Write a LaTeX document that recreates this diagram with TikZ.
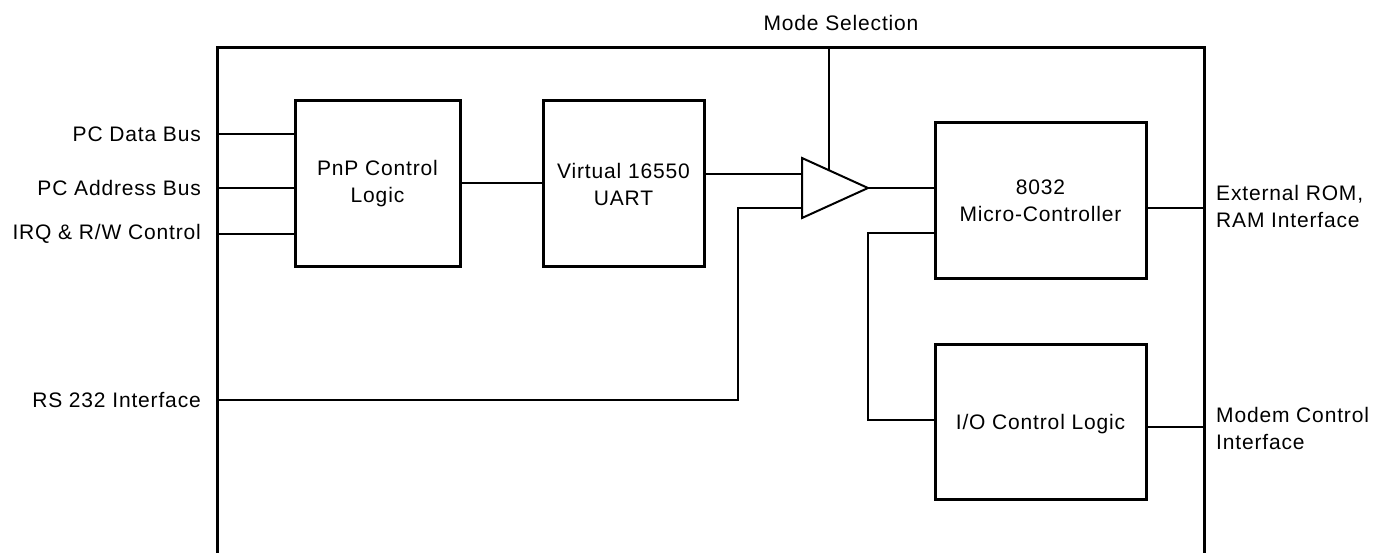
\documentclass[tikz,border=0pt]{standalone}
\usepackage{fontspec}
\setmainfont{Liberation Sans}[LetterSpace=4]
\begin{document}
\begin{tikzpicture}[x=1pt,y=-1pt,
  blk/.style={draw,line width=3pt,inner sep=0pt},
  wire/.style={line width=1.8pt},
  lbl/.style={font=\fontsize{21}{27}\selectfont,inner sep=0pt},
]
\useasboundingbox (0,0) rectangle (1389,552);
% outer frame (open at the bottom)
\draw[line width=3pt] (217,560) -- (217,47) -- (1204,47) -- (1204,560);
% blocks
\node[blk,minimum width=165pt,minimum height=166pt] (pnp) at (377.5,183) {};
\node[lbl,align=center] at (377.5,184) {PnP Control\\Logic};
\node[blk,minimum width=161pt,minimum height=166pt] (uart) at (623.5,183) {};
\node[lbl,align=center] at (623.5,184) {Virtual 16550\\UART};
\node[blk,minimum width=211pt,minimum height=156pt] (mcu) at (1040.5,200) {};
\node[lbl,align=center] at (1040.5,201) {8032\\Micro-Controller};
\node[blk,minimum width=211pt,minimum height=155pt] (io) at (1040.5,422) {};
\node[lbl] at (1040.5,424) {I/O Control Logic};
% amplifier
\coordinate (ampA) at (802,158);
\coordinate (ampB) at (802,218);
\coordinate (ampT) at (868,188);
\draw[line width=2pt,line join=miter] (ampA) -- (ampT) -- (ampB) -- cycle;
\coordinate (in1) at (802,174);
\coordinate (in2) at (802,208);
\coordinate (ctl) at (829,170.3);
\coordinate (ctltop) at (829,47);
\coordinate (rsL) at (217,400);
\coordinate (bend) at (738,400);
\coordinate (loopx) at (868,420);
\coordinate (extR) at (1204,208);
\coordinate (modR) at (1204,427);
% left labels
\node[lbl,anchor=east] (pcd) at (201,134) {PC Data Bus};
\node[lbl,anchor=east] (pca) at (201,188) {PC Address Bus};
\node[lbl,anchor=east] (irq) at (201,234) {IRQ \& R/W Control};
\node[lbl,anchor=east] (rs) at (201,400) {RS 232 Interface};
\node[lbl] (mode) at (841,23) {Mode Selection};
\node[lbl,anchor=west,align=left] (ext) at (1216,206) {External ROM,\\RAM Interface};
\node[lbl,anchor=west,align=left] (modem) at (1216,428) {Modem Control\\Interface};
% wires
\draw[wire] (217,134) -- (pnp.west |- 0,134);
\draw[wire] (217,188) -- (pnp.west |- 0,188);
\draw[wire] (217,234) -- (pnp.west |- 0,234);
\draw[wire] (pnp.east) -- (uart.west);
\draw[wire] (uart.east |- in1) -- (in1);
\draw[wire] (rsL) -- (bend) |- (in2);
\draw[wire] (ctltop) -- (ctl);
\draw[wire] (ampT) -- (mcu.west |- ampT);
\draw[wire] (mcu.west |- 0,233) -| (loopx) -- (io.west |- loopx);
\draw[wire] (mcu.east |- extR) -- (extR);
\draw[wire] (io.east |- modR) -- (modR);
\end{tikzpicture}
\end{document}
